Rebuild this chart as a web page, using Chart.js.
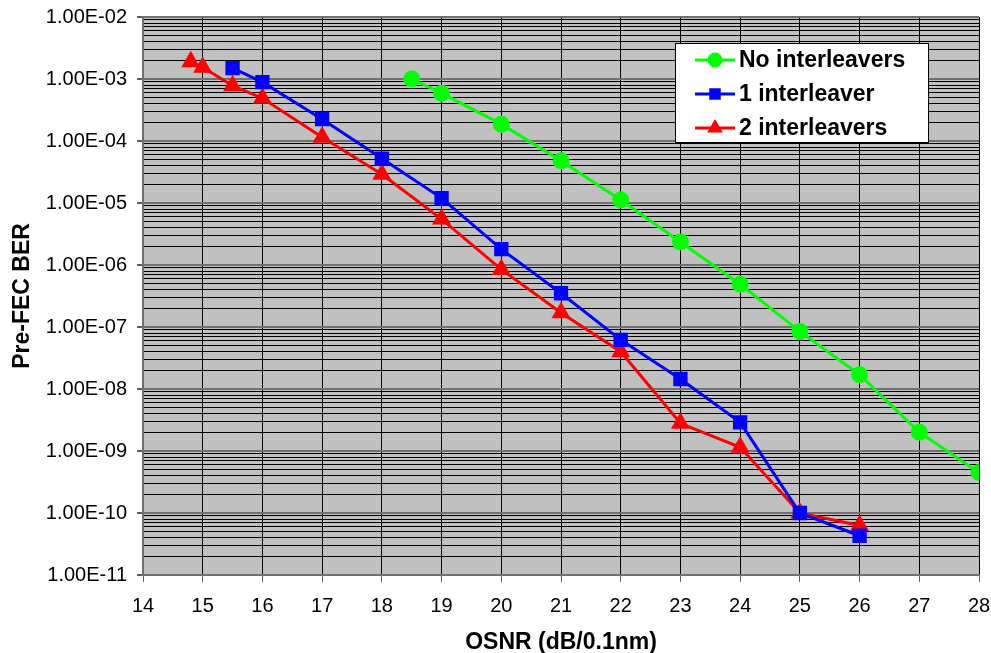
<!DOCTYPE html>
<html>
<head>
<meta charset="utf-8">
<script src="https://cdn.jsdelivr.net/npm/chart.js@4/dist/chart.umd.min.js"></script>
<style>
  html, body { margin: 0; padding: 0; background: #ffffff; }
  #wrap { width: 991px; height: 653px; }
</style>
</head>
<body>
<div id="wrap"><canvas id="ber-chart" width="991" height="653"></canvas></div>
<script>
// OSNR (dB/0.1nm) vs pre-FEC BER
const seriesNames = ['No interleavers', '1 interleaver', '2 interleavers'];

const osnrNone = [18.5, 19, 20, 21, 22, 23, 24, 25, 26, 27, 28];
const berNone  = [1.0e-3, 5.9e-4, 1.87e-4, 4.8e-5, 1.12e-5, 2.35e-6, 4.9e-7, 8.5e-8, 1.7e-8, 2.0e-9, 4.5e-10];

const osnrOne = [15.5, 16, 17, 18, 19, 20, 21, 22, 23, 24, 25, 26];
const berOne  = [1.5e-3, 8.9e-4, 2.25e-4, 5.2e-5, 1.2e-5, 1.8e-6, 3.5e-7, 6.2e-8, 1.45e-8, 2.9e-9, 1.0e-10, 4.3e-11];

const osnrTwo = [14.8, 15, 15.5, 16, 17, 18, 19, 20, 21, 22, 23, 24, 25, 26];
const berTwo  = [1.9e-3, 1.55e-3, 7.8e-4, 4.9e-4, 1.15e-4, 2.9e-5, 5.5e-6, 8.5e-7, 1.7e-7, 4.0e-8, 2.8e-9, 1.15e-9, 1.0e-10, 6.3e-11];

const xTickMin = 14;
const xTickMax = 28;
const yDecades = [-11, -10, -9, -8, -7, -6, -5, -4, -3, -2];
const yMantissas = [1, 2, 3, 4, 5, 6, 7, 8, 9];

const FONT = 'Arial, "Liberation Sans", sans-serif';
Chart.defaults.font.family = FONT;
Chart.defaults.color = '#000000';

function toPoints(xs, ys) {
  return xs.map((x, i) => ({ x, y: ys[i] }));
}

// every 1..9 x 10^n step gets a grid line, decades are the labelled ones
function buildLogTicks() {
  const out = [];
  yDecades.forEach((e, i) => {
    const last = i === yDecades.length - 1;
    (last ? [1] : yMantissas).forEach(m => {
      out.push({ value: Number(m + 'e' + e), major: m === 1 });
    });
  });
  return out;
}

function sciLabel(v) {
  const e = Math.round(Math.log10(v));
  const sign = e < 0 ? '-' : '+';
  const abs = Math.abs(e);
  return '1.00E' + sign + (abs < 10 ? '0' + abs : abs);
}

const plotBackground = {
  id: 'plotBackground',
  beforeDraw(chart) {
    const { ctx, chartArea: a } = chart;
    ctx.save();
    ctx.fillStyle = '#c0c0c0';
    ctx.fillRect(a.left, a.top, a.right - a.left, a.bottom - a.top);
    ctx.restore();
  }
};

// legend sits inside the plot, top right
const boxLegend = {
  id: 'boxLegend',
  afterDraw(chart) {
    const ctx = chart.ctx;
    const bx = 675, by = 43, bw = 253, bh = 99;
    ctx.save();
    ctx.fillStyle = '#ffffff';
    ctx.fillRect(bx, by, bw, bh);
    ctx.strokeStyle = '#000000';
    ctx.lineWidth = 1;
    ctx.strokeRect(bx + 0.5, by + 0.5, bw, bh);

    const rows = [60, 94, 128];
    chart.data.datasets.forEach((ds, i) => {
      const cy = rows[i];
      ctx.strokeStyle = ds.borderColor;
      ctx.lineWidth = 3;
      ctx.beginPath();
      ctx.moveTo(695, cy);
      ctx.lineTo(735, cy);
      ctx.stroke();
      ctx.fillStyle = ds.pointBackgroundColor;
      ctx.strokeStyle = ds.pointBorderColor;
      Chart.helpers.drawPoint(ctx, {
        pointStyle: ds.pointStyle,
        radius: 6,
        rotation: 0,
        borderWidth: 1
      }, 715, cy);
      ctx.fillStyle = '#000000';
      ctx.font = 'bold 23px ' + FONT;
      ctx.textBaseline = 'middle';
      ctx.textAlign = 'left';
      ctx.fillText(ds.label, 739, cy + 1);
    });
    ctx.restore();
  }
};

const ctx = document.getElementById('ber-chart').getContext('2d');
new Chart(ctx, {
  type: 'line',
  data: {
    datasets: [
      {
        label: seriesNames[0],
        data: toPoints(osnrNone, berNone),
        borderColor: '#00ff00',
        backgroundColor: '#00ff00',
        pointBackgroundColor: '#00ff00',
        pointBorderColor: '#00ff00',
        pointStyle: 'circle',
        pointRadius: 7,
        borderWidth: 3
      },
      {
        label: seriesNames[1],
        data: toPoints(osnrOne, berOne),
        borderColor: '#0000ff',
        backgroundColor: '#0000ff',
        pointBackgroundColor: '#0000ff',
        pointBorderColor: '#0000ff',
        pointStyle: 'rect',
        pointRadius: 8,
        borderWidth: 3
      },
      {
        label: seriesNames[2],
        data: toPoints(osnrTwo, berTwo),
        borderColor: '#ff0000',
        backgroundColor: '#ff0000',
        pointBackgroundColor: '#ff0000',
        pointBorderColor: '#ff0000',
        pointStyle: 'triangle',
        pointRadius: 8,
        borderWidth: 3
      }
    ]
  },
  options: {
    responsive: false,
    animation: false,
    devicePixelRatio: 1,
    layout: { padding: { top: 17, right: 12, left: 0, bottom: 0 } },
    plugins: {
      legend: { display: false },
      tooltip: { enabled: false }
    },
    scales: {
      x: {
        type: 'linear',
        min: xTickMin,
        max: xTickMax,
        ticks: { stepSize: 1, font: { size: 20 }, padding: 12, maxRotation: 0 },
        grid: { color: '#000000', lineWidth: 1, tickLength: 7, tickColor: '#606060' },
        border: { color: '#707070', width: 2 },
        title: {
          display: true,
          text: 'OSNR (dB/0.1nm)',
          font: { size: 23, weight: 'bold' },
          padding: { top: 0, bottom: -3 }
        },
        afterFit: s => { s.height = 78; s.paddingLeft = 0; s.paddingRight = 0; }
      },
      y: {
        type: 'logarithmic',
        min: 1e-11,
        max: 1e-2,
        afterBuildTicks: s => { s.ticks = buildLogTicks(); },
        ticks: {
          autoSkip: false,
          font: { size: 20 },
          padding: 10,
          callback: (v, i, ticks) => ticks[i].major ? sciLabel(v) : ''
        },
        grid: {
          color: c => (c.tick && c.tick.major) ? '#707070' : '#000000',
          lineWidth: c => (c.tick && c.tick.major) ? 2 : 1,
          tickLength: 6,
          tickColor: c => (c.tick && c.tick.major) ? '#606060' : 'rgba(0,0,0,0)'
        },
        border: { color: '#707070', width: 2 },
        title: {
          display: true,
          text: 'Pre-FEC BER',
          font: { size: 23, weight: 'bold' },
          padding: { top: 9, bottom: 0 }
        },
        afterFit: s => { s.width = 143; s.paddingTop = 0; s.paddingBottom = 0; }
      }
    }
  },
  plugins: [plotBackground, boxLegend]
});
</script>
</body>
</html>
